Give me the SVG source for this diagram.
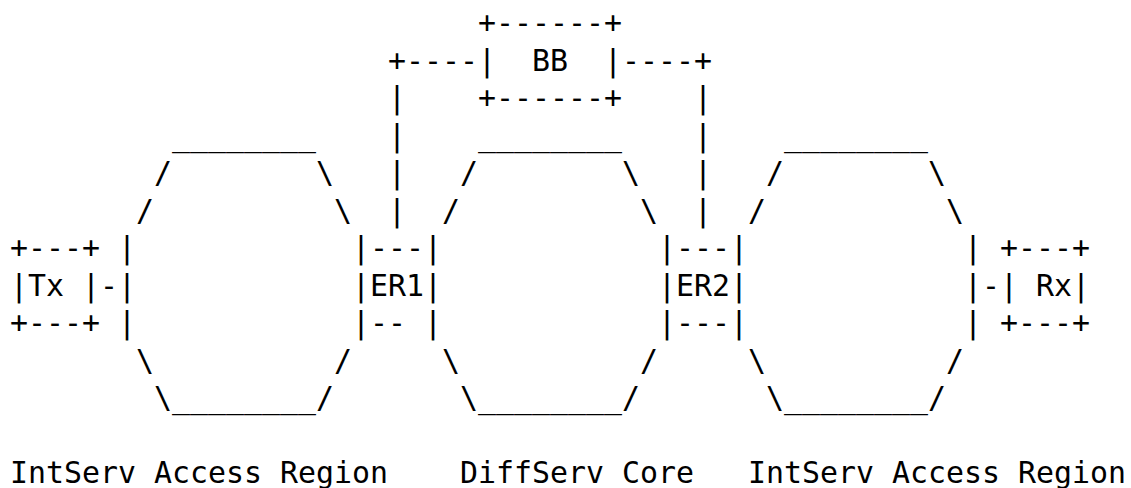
<svg xmlns="http://www.w3.org/2000/svg" width="1131" height="488" viewBox="0 0 1131 488" xml:space="preserve">
  <style>
    text { font-family: "DejaVu Sans Mono", "Liberation Mono", monospace; font-size: 29.9px; fill: #000; white-space: pre; }
  </style>
  <rect width="1131" height="488" fill="#fff"/>

  <!-- Character grid: column c starts at x = 10 + 18*c, row baselines step by 37.5 -->

  <!-- Bandwidth broker -->
  <g id="bb">
    <text x="478" y="33">+------+</text>
    <text x="478" y="70.5">|</text>
    <text x="532" y="70.5">BB</text>
    <text x="604" y="70.5">|</text>
    <text x="478" y="108">+------+</text>
  </g>

  <!-- Sender host -->
  <g id="tx">
    <text x="10" y="258">+---+</text>
    <text x="10" y="295.5">|Tx |</text>
    <text x="10" y="333">+---+</text>
  </g>

  <!-- Receiver host -->
  <g id="rx">
    <text x="1000" y="258">+---+</text>
    <text x="1000" y="295.5">| Rx|</text>
    <text x="1000" y="333">+---+</text>
  </g>

  <!-- Edge router 1 -->
  <g id="er1">
    <text x="352" y="258">|---|</text>
    <text x="352" y="295.5">|ER1|</text>
    <text x="352" y="333">|-- |</text>
  </g>

  <!-- Edge router 2 -->
  <g id="er2">
    <text x="658" y="258">|---|</text>
    <text x="658" y="295.5">|ER2|</text>
    <text x="658" y="333">|---|</text>
  </g>

  <!-- Left IntServ access region -->
  <g id="access-left">
    <text x="172" y="145.5">________</text>
    <text x="154" y="183">/</text>
    <text x="316" y="183">\</text>
    <text x="136" y="220.5">/</text>
    <text x="334" y="220.5">\</text>
    <text x="118" y="258">|</text>
    <text x="118" y="295.5">|</text>
    <text x="118" y="333">|</text>
    <text x="136" y="370.5">\</text>
    <text x="334" y="370.5">/</text>
    <text x="154" y="408">\________/</text>
    <text x="10" y="483">IntServ Access Region</text>
  </g>

  <!-- DiffServ core region -->
  <g id="core">
    <text x="478" y="145.5">________</text>
    <text x="460" y="183">/</text>
    <text x="622" y="183">\</text>
    <text x="442" y="220.5">/</text>
    <text x="640" y="220.5">\</text>
    <text x="442" y="370.5">\</text>
    <text x="640" y="370.5">/</text>
    <text x="460" y="408">\________/</text>
    <text x="460" y="483">DiffServ Core</text>
  </g>

  <!-- Right IntServ access region -->
  <g id="access-right">
    <text x="784" y="145.5">________</text>
    <text x="766" y="183">/</text>
    <text x="928" y="183">\</text>
    <text x="748" y="220.5">/</text>
    <text x="946" y="220.5">\</text>
    <text x="964" y="258">|</text>
    <text x="964" y="295.5">|</text>
    <text x="964" y="333">|</text>
    <text x="748" y="370.5">\</text>
    <text x="946" y="370.5">/</text>
    <text x="766" y="408">\________/</text>
    <text x="748" y="483">IntServ Access Region</text>
  </g>

  <!-- Links: BB to edge routers, hosts to access regions -->
  <g id="connectors">
    <text x="388" y="70.5">+----</text>
    <text x="622" y="70.5">----+</text>
    <text x="388" y="108">|</text>
    <text x="388" y="145.5">|</text>
    <text x="388" y="183">|</text>
    <text x="388" y="220.5">|</text>
    <text x="694" y="108">|</text>
    <text x="694" y="145.5">|</text>
    <text x="694" y="183">|</text>
    <text x="694" y="220.5">|</text>
    <text x="100" y="295.5">-</text>
    <text x="982" y="295.5">-</text>
  </g>
</svg>
